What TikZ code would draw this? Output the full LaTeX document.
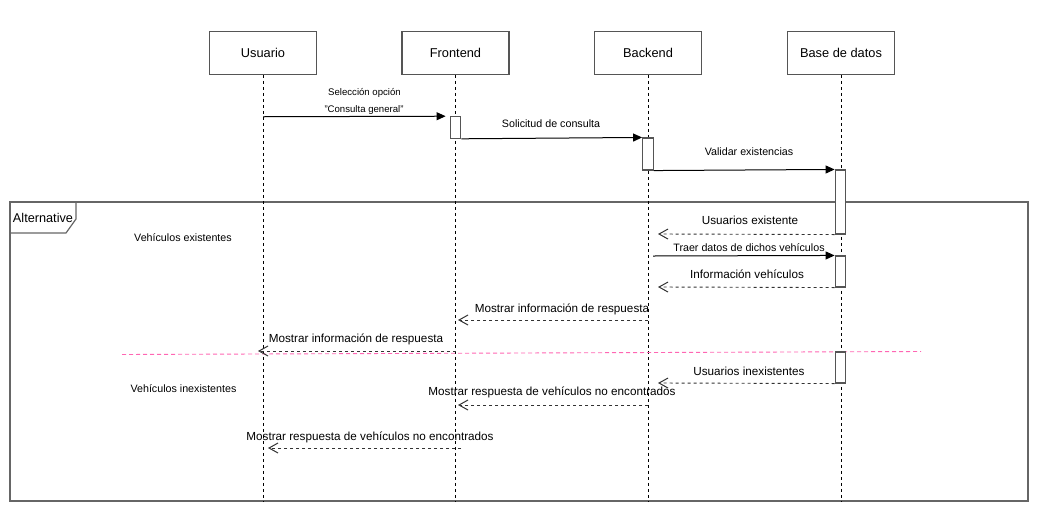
\documentclass[tikz,border=0pt]{standalone}
\usepackage{fontspec}
\setmainfont{Liberation Sans}
\usetikzlibrary{arrows.meta}
\definecolor{boxgray}{HTML}{555555}
\definecolor{framegray}{HTML}{666666}
\definecolor{retgray}{HTML}{333333}
\definecolor{pinkline}{HTML}{FF66B3}
\begin{document}
\begin{tikzpicture}[x=1pt,y=-1pt,
  lbox/.style={draw=boxgray, line width=1.2pt, fill=white, minimum width=107pt, minimum height=42.5pt, inner sep=0pt, font=\fontsize{12.8}{14}\selectfont},
  act/.style={draw=boxgray, line width=1.1pt, fill=white, minimum width=10.7pt, inner sep=0pt},
  life/.style={draw=black, line width=0.9pt, dash pattern=on 3pt off 3pt},
  msg/.style={draw=black, line width=1pt, -{Triangle[length=9pt,width=8pt]}},
  ret/.style={draw=retgray, line width=0.9pt, dash pattern=on 3pt off 3pt, -{Straight Barb[length=9pt,width=10pt,line width=1pt]}},
  lab/.style={font=\fontsize{10.7}{12}\selectfont, inner sep=0pt},
  labs/.style={font=\fontsize{9.6}{11}\selectfont, inner sep=0pt},
  labb/.style={font=\fontsize{11.7}{13}\selectfont, inner sep=0pt},
  framec/.style={draw=framegray, line width=1.2pt},
]
\useasboundingbox (0,0) rectangle (1045,507);
\fill[white] (0,0) rectangle (1045,507);

% frame
\node[framec, minimum width=1018pt, minimum height=299pt, inner sep=0pt] (alt) at (519,351.5) {};
\draw[framec] (10,202) -- (76,202) -- (76,219) -- (66,233) -- (10,233);
\node[font=\fontsize{12.7}{14}\selectfont, inner sep=0pt] (altlab) at (43,218) {Alternative};

% lifeline heads
\node[lbox] (u) at (263,53) {Usuario};
\node[lbox] (f) at (455.5,53) {Frontend};
\node[lbox] (b) at (648,53) {Backend};
\node[lbox] (d) at (841,53) {Base de datos};

\coordinate (ue) at (263,501);
\coordinate (fe) at (455.5,501);
\coordinate (be) at (648,501);
\coordinate (de) at (841,501);
\draw[life] (u) -- (ue);
\draw[life] (f) -- (fe);
\draw[life] (b) -- (be);
\draw[life] (d) -- (de);

% separator
\coordinate (p1) at (122,354.5);
\coordinate (p2) at (921,351.5);
\draw[pinkline, line width=0.9pt, dash pattern=on 4pt off 3pt] (p1) -- (p2);

% activations
\node[act, minimum height=21.5pt] (f1) at (455.5,127.5) {};
\node[act, minimum height=32pt] (b1) at (648,154) {};
\node[act, minimum height=64pt] (d1) at (840.5,202) {};
\node[act, minimum height=31pt] (d2) at (840.5,271.5) {};
\node[act, minimum height=31pt] (d3) at (840.5,367.5) {};

% messages
\coordinate (m1s) at (263,116.75);
\draw[msg, shorten >=4pt] (m1s) -- (f1.north west);
\draw[msg] (f1.south east) -- (b1.north west);
\draw[msg] (b1.south east) -- (d1.north west);
\coordinate (r1e) at (658,234);
\draw[ret] (d1.south west) -- (r1e);
\coordinate (m5s) at (653,256);
\draw[msg] (m5s) -- (d2.north west);
\coordinate (r2e) at (658,287);
\draw[ret] (d2.south west) -- (r2e);
\coordinate (m7s) at (648,320);
\coordinate (m7e) at (458,320);
\draw[ret] (m7s) -- (m7e);
\coordinate (m8s) at (455.5,351);
\coordinate (m8e) at (258,351);
\draw[ret] (m8s) -- (m8e);
\coordinate (r3e) at (658,383);
\draw[ret] (d3.south west) -- (r3e);
\coordinate (m10s) at (648,405);
\coordinate (m10e) at (458,405);
\draw[ret] (m10s) -- (m10e);
\coordinate (m11s) at (461,448);
\coordinate (m11e) at (268,448);
\draw[ret] (m11s) -- (m11e);

% labels
\node[labs] (t1) at (364.5,92.5) {Selección opción};
\node[labs] (t1b) at (364,110) {"Consulta general"};
\node[lab] (t2) at (551,124) {Solicitud de consulta};
\node[lab] (t3) at (749,152) {Validar existencias};
\node[labb] (t4) at (750,220) {Usuarios existente};
\node[lab] (t5) at (749,248) {Traer datos de dichos vehículos};
\node[labb] (t6) at (747,274) {Información vehículos};
\node[labb] (t7) at (562,309) {Mostrar información de respuesta};
\node[labb] (t8) at (356,339) {Mostrar información de respuesta};
\node[labb] (t9) at (749,371) {Usuarios inexistentes};
\node[labb] (t10) at (552,392) {Mostrar respuesta de vehículos no encontrados};
\node[labb] (t11) at (370,437) {Mostrar respuesta de vehículos no encontrados};
\node[lab] (g1) at (183,238) {Vehículos existentes};
\node[lab] (g2) at (183.5,389) {Vehículos inexistentes};
\end{tikzpicture}
\end{document}
